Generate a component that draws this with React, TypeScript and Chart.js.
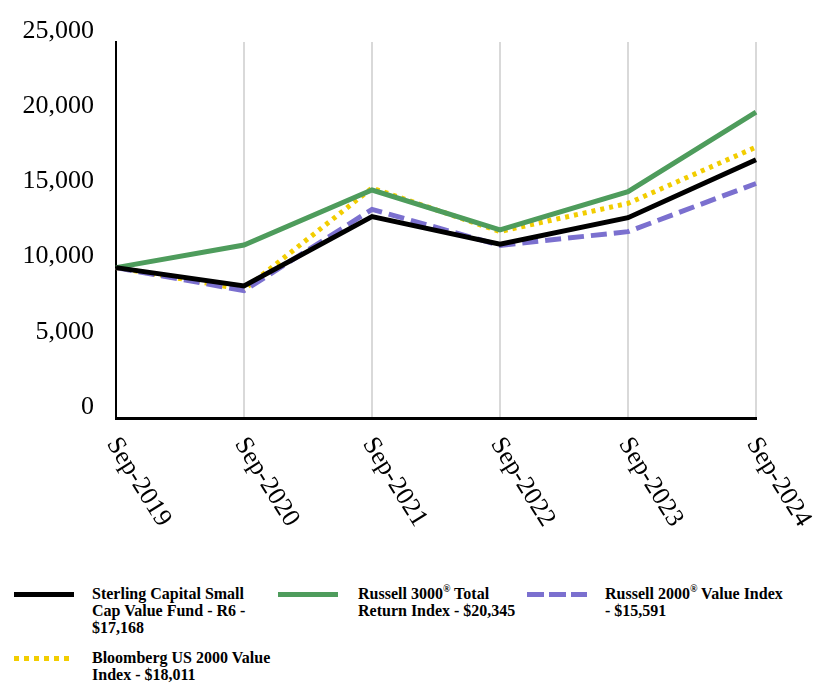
import React, { useEffect, useRef } from "react";
import { Chart, registerables } from "chart.js";

Chart.register(...registerables);

const categories = ["Sep-2019", "Sep-2020", "Sep-2021", "Sep-2022", "Sep-2023", "Sep-2024"];
const sterling = [10000, 8780, 13390, 11560, 13320, 17168];
const russell3000 = [10000, 11500, 15160, 12500, 15050, 20345];
const russell2000 = [10000, 8470, 13870, 11480, 12390, 15591];
const bloomberg = [10000, 8550, 15290, 12400, 14270, 18011];
const yTicks = [0, 5000, 10000, 15000, 20000, 25000];

const BLACK = "#000000";
const GREEN = "#4e9c5c";
const PURPLE = "#7b70cf";
const YELLOW = "#f2cd00";

const xLabelPlugin = {
  id: "xLabelsRotated",
  afterDraw(chart: any) {
    const ctx = chart.ctx;
    const xs = chart.scales.x;
    ctx.save();
    ctx.font = '26px "Liberation Serif", "Times New Roman", serif';
    ctx.fillStyle = "#000";
    ctx.textAlign = "left";
    ctx.textBaseline = "middle";
    categories.forEach((c, i) => {
      const x = xs.getPixelForValue(i);
      ctx.save();
      ctx.translate(x - 4, chart.chartArea.bottom + 22);
      ctx.rotate((58 * Math.PI) / 180);
      ctx.fillText(c, 0, 0);
      ctx.restore();
    });
    ctx.restore();
  },
};

function Swatch({ color, dash }: { color: string; dash?: [number, number] }) {
  const bg = dash
    ? `repeating-linear-gradient(to right, ${color} 0px, ${color} ${dash[0]}px, transparent ${dash[0]}px, transparent ${dash[0] + dash[1]}px)`
    : color;
  return <div style={{ width: 60, height: 5, background: bg }} />;
}

const textStyle: React.CSSProperties = {
  fontFamily: '"Liberation Serif", "Times New Roman", serif',
  fontWeight: "bold",
  fontSize: 16,
  lineHeight: "17px",
  color: "#000",
  whiteSpace: "nowrap",
  position: "absolute",
};

const supStyle: React.CSSProperties = { fontSize: 10, verticalAlign: "top", lineHeight: "10px", position: "relative", top: -1 };

export default function App() {
  const ref = useRef<HTMLCanvasElement>(null);
  useEffect(() => {
    if (!ref.current) return;
    const common = { fill: false, tension: 0, pointRadius: 0, borderWidth: 5, borderCapStyle: "butt" as const };
    const chart = new Chart(ref.current, {
      type: "line",
      data: {
        labels: categories,
        datasets: [
          { ...common, label: "Sterling Capital Small Cap Value Fund - R6 - $17,168", data: sterling, borderColor: BLACK },
          { ...common, label: "Russell 3000® Total Return Index - $20,345", data: russell3000, borderColor: GREEN },
          { ...common, label: "Russell 2000® Value Index - $15,591", data: russell2000, borderColor: PURPLE, borderDash: [16, 7] },
          { ...common, label: "Bloomberg US 2000 Value Index - $18,011", data: bloomberg, borderColor: YELLOW, borderDash: [4, 5] },
        ],
      },
      options: {
        animation: false,
        responsive: false,
        maintainAspectRatio: false,
        layout: { padding: { top: 42, right: 72, left: 0, bottom: 0 } },
        plugins: { legend: { display: false }, tooltip: { enabled: false } },
        scales: {
          x: {
            type: "category",
            offset: false,
            ticks: { display: false },
            grid: { display: true, color: "#d9d9d9", lineWidth: 2, drawTicks: false },
            border: { display: true, color: "#000", width: 3 },
            afterFit: (s: any) => {
              s.height = 142;
            },
          },
          y: {
            min: 0,
            max: 25000,
            afterBuildTicks: (s: any) => {
              s.ticks = yTicks.map((v) => ({ value: v }));
            },
            ticks: {
              font: { family: '"Liberation Serif", "Times New Roman", serif', size: 26 },
              color: "#000",
              padding: 22,
              labelOffset: -11,
              callback: (v: any) => Number(v).toLocaleString("en-US"),
            },
            grid: { display: false, drawTicks: false },
            border: { display: true, color: "#000", width: 2 },
            afterFit: (s: any) => {
              s.width = 116;
            },
          },
        },
      },
      plugins: [xLabelPlugin],
    });
    return () => chart.destroy();
  }, []);

  return (
    <div style={{ position: "absolute", left: 0, top: 0, width: 828, height: 684, background: "#fff" }}>
      <canvas ref={ref} width={828} height={560} style={{ position: "absolute", left: 0, top: 0, width: 828, height: 560 }} />
      <div style={{ position: "absolute", left: 14, top: 592 }}>
        <Swatch color={BLACK} />
      </div>
      <div style={{ ...textStyle, left: 92, top: 585 }}>
        Sterling Capital Small
        <br />
        Cap Value Fund - R6 -
        <br />
        $17,168
      </div>
      <div style={{ position: "absolute", left: 278, top: 592 }}>
        <Swatch color={GREEN} />
      </div>
      <div style={{ ...textStyle, left: 358, top: 585 }}>
        Russell 3000<span style={supStyle}>®</span> Total
        <br />
        Return Index - $20,345
      </div>
      <div style={{ position: "absolute", left: 527, top: 592 }}>
        <Swatch color={PURPLE} dash={[17, 5]} />
      </div>
      <div style={{ ...textStyle, left: 605, top: 585 }}>
        Russell 2000<span style={supStyle}>®</span> Value Index
        <br />- $15,591
      </div>
      <div style={{ position: "absolute", left: 14, top: 656 }}>
        <Swatch color={YELLOW} dash={[5, 5]} />
      </div>
      <div style={{ ...textStyle, left: 92, top: 649 }}>
        Bloomberg US 2000 Value
        <br />
        Index - $18,011
      </div>
    </div>
  );
}
